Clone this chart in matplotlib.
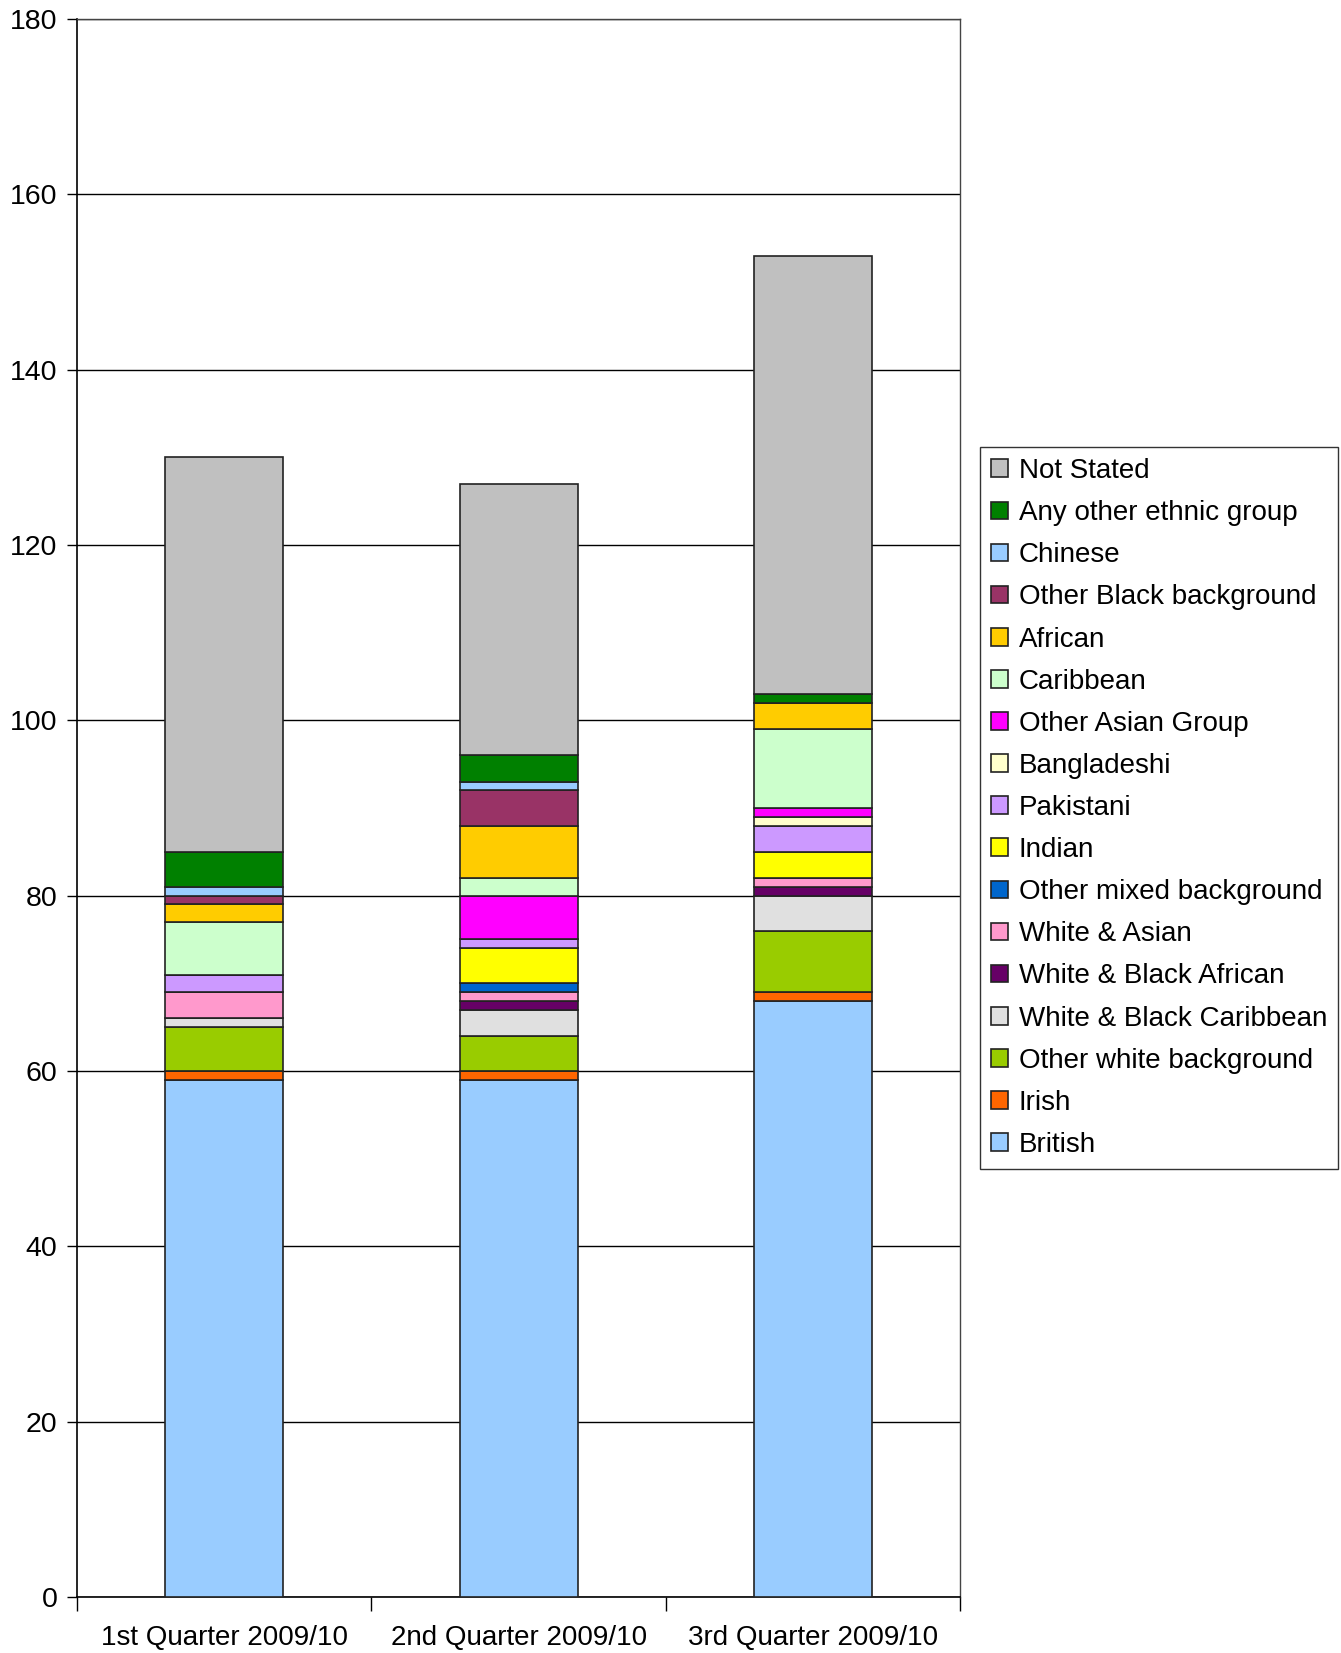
import matplotlib.pyplot as plt
import numpy as np

plt.rcParams['font.family'] = ['Liberation Sans', 'DejaVu Sans']

quarters = ["1st Quarter 2009/10", "2nd Quarter 2009/10", "3rd Quarter 2009/10"]

groups = ["British", "Irish", "Other white background", "White & Black Caribbean",
          "White & Black African", "White & Asian", "Other mixed background",
          "Indian", "Pakistani", "Bangladeshi", "Other Asian Group", "Caribbean",
          "African", "Other Black background", "Chinese", "Any other ethnic group",
          "Not Stated"]

british = [59, 59, 68]
irish = [1, 1, 1]
other_white = [5, 4, 7]
white_black_carib = [1, 3, 4]
white_black_afr = [0, 1, 1]
white_asian = [3, 1, 1]
other_mixed = [0, 1, 0]
indian = [0, 4, 3]
pakistani = [2, 1, 3]
bangladeshi = [0, 0, 1]
other_asian = [0, 5, 1]
caribbean = [6, 2, 9]
african = [2, 6, 3]
other_black = [1, 4, 0]
chinese = [1, 1, 0]
any_other = [4, 3, 1]
not_stated = [45, 31, 50]

series = [british, irish, other_white, white_black_carib, white_black_afr,
          white_asian, other_mixed, indian, pakistani, bangladeshi, other_asian,
          caribbean, african, other_black, chinese, any_other, not_stated]

colors = ["#99CCFF", "#FF6600", "#99CC00", "#E0E0E0", "#660066", "#FF99CC",
          "#0066CC", "#FFFF00", "#CC99FF", "#FFFFCC", "#FF00FF", "#CCFFCC",
          "#FFCC00", "#993366", "#99CCFF", "#008000", "#C0C0C0"]

fig = plt.figure(figsize=(13.41, 16.53), dpi=100)
ax = fig.add_axes([0.0574, 0.0339, 0.6587, 0.9546])

x = np.arange(len(quarters))
bottom = np.zeros(len(quarters))
handles = []
for name, vals, c in zip(groups, series, colors):
    vals = np.array(vals, dtype=float)
    b = ax.bar(x, vals, width=0.4, bottom=bottom, color=c,
               edgecolor="#222222", linewidth=1.2, label=name, zorder=3)
    handles.append(b)
    bottom += vals

ax.set_xlim(-0.5, 2.5)
ax.set_ylim(0, 180)
ax.set_yticks(np.arange(0, 181, 20))
ax.yaxis.grid(True, color="black", linewidth=1, zorder=0)
ax.tick_params(axis='y', direction='out', length=7, width=1, labelsize=20.5, pad=7)

# category labels centred, ticks between categories
ax.set_xticks(x)
ax.set_xticklabels(quarters, fontsize=20)
ax.tick_params(axis='x', which='major', length=0, pad=20)
ax.set_xticks(np.arange(-0.5, 3, 1), minor=True)
ax.tick_params(axis='x', which='minor', direction='out', length=10, width=1)

for s in ["left", "bottom"]:
    ax.spines[s].set_color("black")
    ax.spines[s].set_linewidth(1.2)
for s in ["top", "right"]:
    ax.spines[s].set_color("#444444")
    ax.spines[s].set_linewidth(1)

leg = fig.legend(handles[::-1], groups[::-1], loc="upper left",
                 bbox_to_anchor=(0.7308, 0.7296), fontsize=20,
                 frameon=True, fancybox=False, edgecolor="black",
                 handlelength=0.6, handleheight=0.6, handletextpad=0.4,
                 labelspacing=0.58, borderpad=0.4, borderaxespad=0)
leg.get_frame().set_linewidth(1)

fig.savefig("out.png", dpi=100)
